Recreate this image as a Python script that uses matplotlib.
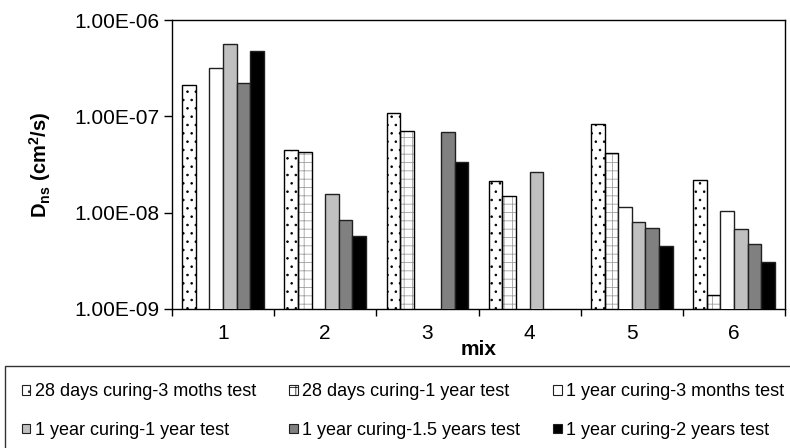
import numpy as np
import matplotlib
matplotlib.use("Agg")
import matplotlib.pyplot as plt
from matplotlib.patches import Patch
from matplotlib.ticker import FuncFormatter, FixedLocator, NullFormatter

plt.rcParams["font.family"] = ["Liberation Sans", "DejaVu Sans"]
plt.rcParams["mathtext.fontset"] = "custom"
plt.rcParams["mathtext.rm"] = "Liberation Sans"
plt.rcParams["mathtext.bf"] = "Liberation Sans:bold"
plt.rcParams["hatch.linewidth"] = 0.6

mixes = ["1", "2", "3", "4", "5", "6"]
nan = np.nan

# D_ns (cm2/s) per mix, one list per curing / test regime
d28_3m = [2.1e-7, 4.5e-8, 1.09e-7, 2.14e-8, 8.3e-8, 2.2e-8]
d28_1y = [nan, 4.3e-8, 7.1e-8, 1.5e-8, 4.2e-8, 1.39e-9]
y1_3m = [3.2e-7, nan, nan, nan, 1.14e-8, 1.05e-8]
y1_1y = [5.7e-7, 1.55e-8, nan, 2.63e-8, 8.0e-9, 6.8e-9]
y1_15y = [2.2e-7, 8.3e-9, 6.8e-8, nan, 6.9e-9, 4.7e-9]
y1_2y = [4.8e-7, 5.7e-9, 3.35e-8, nan, 4.55e-9, 3.1e-9]

labels = [
    "28 days curing-3 moths test",
    "28 days curing-1 year test",
    "1 year curing-3 months test",
    "1 year curing-1 year test",
    "1 year curing-1.5 years test",
    "1 year curing-2 years test",
]
series = [d28_3m, d28_1y, y1_3m, y1_1y, y1_15y, y1_2y]

# face, hatch, hatch colour
styles = [
    ("white", "..", "black"),
    ("white", "++", "#a0a0a0"),
    ("white", None, None),
    ("#c0c0c0", None, None),
    ("#808080", None, None),
    ("black", None, None),
]

fig = plt.figure(figsize=(7.9, 4.48), dpi=100)
ax = fig.add_axes([0.2177, 0.3103, 0.776, 0.645])
ax.set_yscale("log")

x = np.arange(len(mixes))
w = 0.8 / len(series)
for i, (vals, (face, hatch, hcol)) in enumerate(zip(series, styles)):
    pos = x + (i - 2.5) * w
    if hatch:
        ax.bar(pos, vals, w, color=face, hatch=hatch, edgecolor=hcol,
               linewidth=0, zorder=2)
        ax.bar(pos, vals, w, facecolor="none", edgecolor="black",
               linewidth=1.0, zorder=3)
    else:
        ax.bar(pos, vals, w, color=face, edgecolor="#202020",
               linewidth=1.0, zorder=3)

ax.set_ylim(1e-9, 1e-6)
ax.set_xlim(-0.5, len(mixes) - 0.5)
ax.yaxis.set_major_locator(FixedLocator([1e-9, 1e-8, 1e-7, 1e-6]))
ax.yaxis.set_minor_formatter(NullFormatter())
ax.yaxis.set_minor_locator(FixedLocator([]))
ax.yaxis.set_major_formatter(FuncFormatter(lambda v, p: f"{v:.2E}"))

ax.set_xticks(np.arange(-0.5, len(mixes)))
ax.set_xticklabels([])
ax.set_xticks(x, minor=True)
ax.set_xticklabels(mixes, minor=True)
ax.tick_params(axis="x", which="major", direction="out", length=5,
               width=1)
ax.tick_params(axis="x", which="minor", length=0, pad=11, labelsize=15)
ax.tick_params(axis="y", direction="out", length=6, width=1, pad=3,
               labelsize=15)

for s in ax.spines.values():
    s.set_linewidth(1.0)

ax.set_xlabel("mix", fontsize=15, fontweight="bold", labelpad=-2)
ax.set_ylabel(r"$\mathbf{D_{ns}}$ (cm$\mathbf{^2}$/s)", fontsize=14.5,
              fontweight="bold")
ax.yaxis.set_label_coords(-0.194, 0.5)

handles = []
for face, hatch, hcol in styles:
    handles.append(Patch(facecolor=face, edgecolor="#202020",
                         hatch=hatch, linewidth=0.8))
order = [0, 3, 1, 4, 2, 5]
leg = fig.legend([handles[k] for k in order], [labels[k] for k in order],
                 ncol=3, loc="upper left",
                 bbox_to_anchor=(5 / 790, 1 - 366 / 448),
                 fontsize=13, frameon=True,
                 fancybox=False, edgecolor="black", handlelength=0.45,
                 handleheight=0.45, handletextpad=0.25,
                 columnspacing=1.85, labelspacing=1.2, borderpad=0.95,
                 borderaxespad=0)
leg.get_frame().set_linewidth(1.0)

fig.savefig("out.png", dpi=100)
